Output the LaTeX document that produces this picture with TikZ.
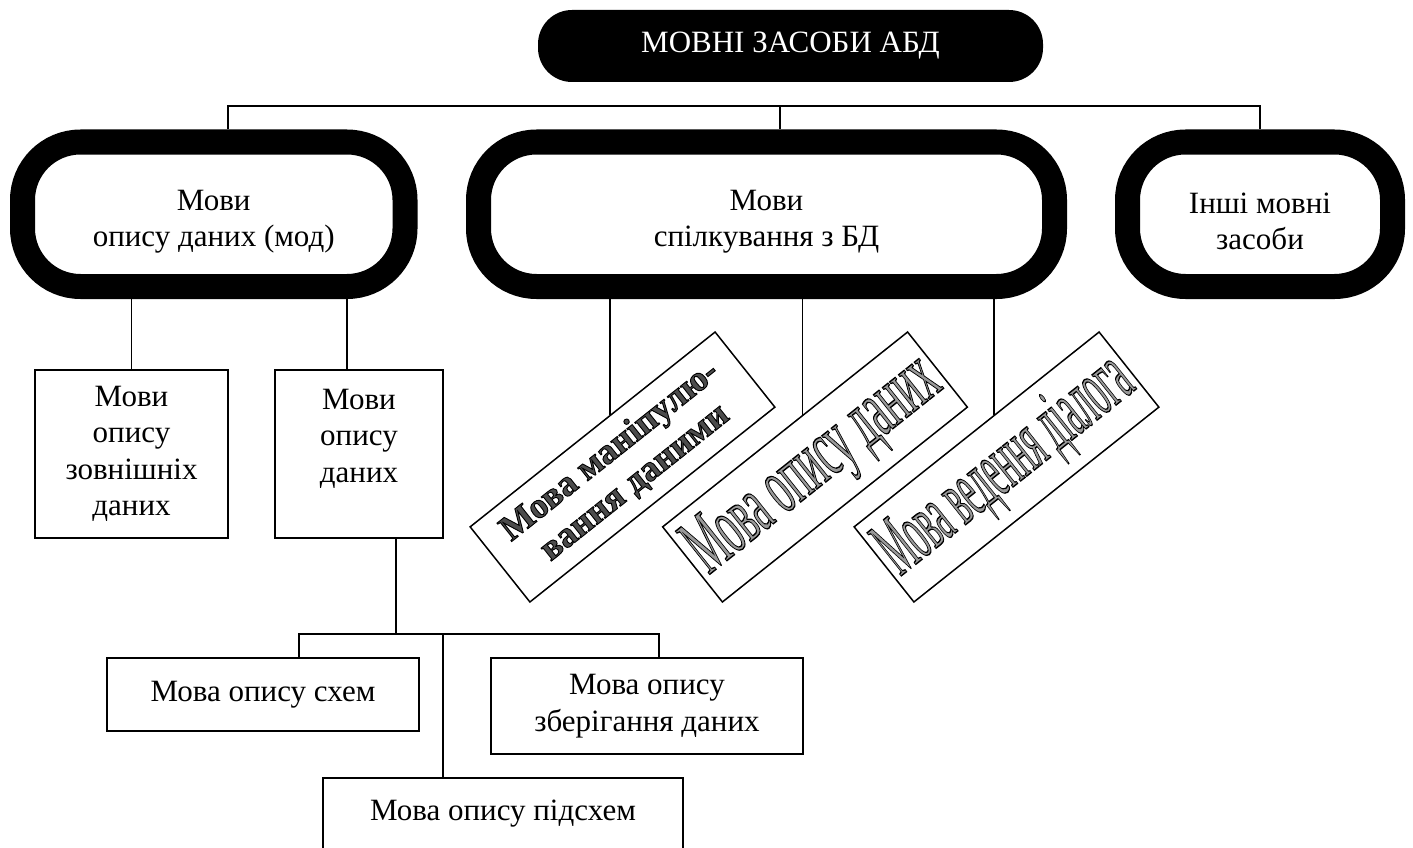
\documentclass[tikz,border=0pt]{standalone}
\usepackage{fontspec}
\setmainfont{Liberation Serif}
\usepackage{graphicx}
\usetikzlibrary{calc}

% WordArt-like lettering: tinted glyph fill with a black glyph outline
% (PDF text render mode 2 = fill and stroke)
\newcommand\wafx[3]{{\color{#1}%
  \special{pdf:literal direct 0 G 2 Tr #2 w}#3\special{pdf:literal direct 0 Tr}}}

% pushes a centred text block a little lower inside its box
\newcommand\lowstrut{\rule{0pt}{35pt}}

\begin{document}
\begin{tikzpicture}[x=1pt,y=-1pt,
  conn/.style={line width=1.5pt},
  basefont/.style={font=\fontsize{31}{36.5}\selectfont},
  plainbox/.style={draw, line width=1.5pt, inner sep=0pt, align=center, basefont},
  thickbox/.style={draw, line width=25pt, rounded corners=58pt, inner sep=0pt,
                   align=center, basefont, minimum height=144.5pt},
  tiltbox/.style={draw, line width=1.5pt, rotate=38.5, minimum width=313pt,
                  minimum height=96pt, inner sep=0pt, align=center},
]
\useasboundingbox (0,0) rectangle (1413,848);
\clip (0,0) rectangle (1413,848);

% root
\node[fill=black, text=white, rounded corners=34pt, minimum width=505pt,
      minimum height=72pt, inner sep=0pt, basefont] (top) at (790.5,46) {МОВНІ ЗАСОБИ АБД};

% second level
\node[thickbox, minimum width=382.5pt] (L) at (213.75,214.25) {\lowstrut Мови\\опису даних (мод)};
\node[thickbox, minimum width=576pt]   (M) at (766.5,214.25)  {\lowstrut Мови\\спілкування з БД};
\node[thickbox, minimum width=265pt]   (R) at (1260,214.25)   {\lowstrut Інші мовні\\засоби};

% description languages
\node[plainbox, minimum width=193pt, minimum height=168pt] (A) at (131.5,454) {Мови\\опису\\зовнішніх\\даних};
\node[plainbox, minimum width=168pt, minimum height=168pt] (B) at (359,454) {Мови\\опису\\даних\\\mbox{}};

\node[plainbox, minimum width=312pt, minimum height=73pt] (S) at (263,694.5) {Мова опису схем};
\node[plainbox, minimum width=312pt, minimum height=96pt] (Z) at (647,706) {Мова опису\\зберігання даних};
\node[plainbox, minimum width=360pt, minimum height=100pt] (P) at (503,828) {Мова опису підсхем\\\mbox{}};

% communication languages
\node[tiltbox, font=\fontsize{36}{40}\selectfont\bfseries] (D1) at (622.5,467)
  {\wafx{black!70}{0.9}{Мова маніпулю-}\\\wafx{black!70}{0.9}{вання даними}};
\node[tiltbox, font=\fontsize{84}{84}\selectfont] (D2) at (815,467)
  {\scalebox{0.46}[1]{\wafx{black!40}{1.4}{Мова опису даних}}};
\node[tiltbox, font=\fontsize{84}{84}\selectfont] (D3) at (1006.5,467)
  {\scalebox{0.39}[1]{\wafx{black!40}{1.4}{Мова ведення діалога}}};

% connectors
\coordinate (bus) at (780,106);
\draw[conn] ([xshift=14.25pt]L.north) |- (R.north |- bus) -- (R.north);
\draw[conn] (bus) -- (bus |- M.north);

\draw[conn] (A.north) -- (A.north |- L.south);
\draw[conn] ([xshift=-12pt]B.north) -- ([xshift=-12pt]B.north |- L.south);

\coordinate (fork) at (396,634);
\draw[conn] (fork |- B.south) -- (fork);
\draw[conn] ([xshift=36pt]S.north) |- (fork) -| ([xshift=12pt]Z.north);
\draw[conn] ([xshift=-60pt]P.north) -- ([xshift=-60pt]P.north |- fork);

\coordinate (t1) at ($(D1.north west)!0.573!(D1.north east)$);
\coordinate (t2) at ($(D2.north west)!0.573!(D2.north east)$);
\coordinate (t3) at ($(D3.north west)!0.573!(D3.north east)$);
\draw[conn] (t1 |- M.south) -- (t1);
\draw[conn] (t2 |- M.south) -- (t2);
\draw[conn] (t3 |- M.south) -- (t3);
\end{tikzpicture}
\end{document}
